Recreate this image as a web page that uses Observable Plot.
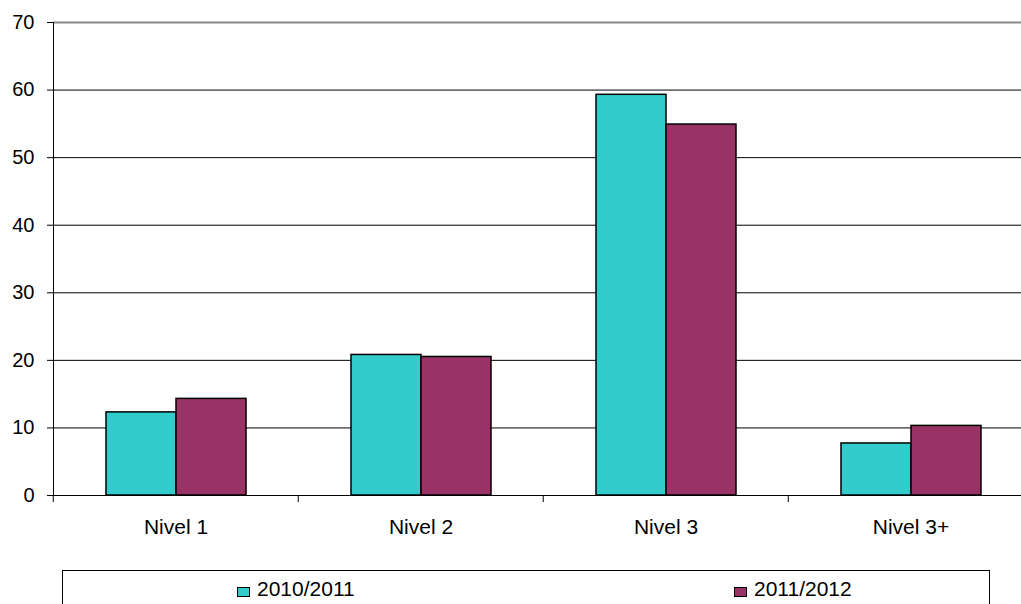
<!DOCTYPE html>
<html>
<head>
<meta charset="utf-8">
<script src="https://cdn.jsdelivr.net/npm/d3@7"></script>
<script src="https://cdn.jsdelivr.net/npm/@observablehq/plot@0.6"></script>
<style>
  html, body { margin: 0; padding: 0; background: white; overflow: hidden; width: 1021px; height: 604px; }
  #chart { position: absolute; left: 0; top: 0; }
  #chart svg { max-width: none !important; }
  #legend { position: absolute; left: 62px; top: 570px; width: 928px; height: 44px; border: 1.5px solid #000; box-sizing: border-box; font-family: "Liberation Sans", Arial, sans-serif; font-size: 21px; color: #000; }
  .sw { position: absolute; width: 13px; height: 10px; border: 1.5px solid #000; box-sizing: border-box; top: 16px; }
  .lt { position: absolute; top: 7px; line-height: 21px; white-space: nowrap; }
</style>
</head>
<body>
<div id="chart"></div>
<div id="legend"></div>
<script>
const categories = ["Nivel 1", "Nivel 2", "Nivel 3", "Nivel 3+"];
const series = ["2010/2011", "2011/2012"];
const values2010 = [12.3, 20.8, 59.3, 7.7];
const values2011 = [14.3, 20.5, 54.9, 10.3];
const yTicks = [0, 10, 20, 30, 40, 50, 60, 70];
const colors = ["#33CCCC", "#993366"];

const data = [];
categories.forEach((c, i) => {
  data.push({category: c, series: series[0], value: values2010[i]});
  data.push({category: c, series: series[1], value: values2011[i]});
});

const W = 1040, ML = 52, MR = 6;
const step = (W - ML - MR) / categories.length;

const chart = Plot.plot({
  width: W,
  height: 545,
  marginLeft: ML,
  marginRight: MR,
  marginTop: 22,
  marginBottom: 50,
  style: {fontFamily: "'Liberation Sans', Arial, sans-serif", fontSize: "20px", color: "#000", background: "white", overflow: "visible", maxWidth: "none"},
  fx: {domain: categories, paddingInner: 0, paddingOuter: 0, axis: null, label: null},
  x: {domain: series, paddingInner: 0, paddingOuter: 0.737, axis: null},
  y: {domain: [0, 70], axis: null},
  color: {domain: series, range: colors},
  marks: [
    Plot.ruleY(yTicks.filter(t => t > 0 && t < 70), {stroke: "#000", strokeWidth: 1}),
    Plot.ruleY([70], {stroke: "#888", strokeWidth: 2}),
    Plot.barY(data, {fx: "category", x: "series", y: "value", fill: "series", stroke: "#000", strokeWidth: 1.5}),
    Plot.ruleY([0], {stroke: "#000", strokeWidth: 1}),
    Plot.frame({anchor: "left", facetAnchor: "left", stroke: "#000", strokeWidth: 1}),
    Plot.axisY({ticks: yTicks, tickSize: 6, tickPadding: 13, stroke: "#000", fill: "#000", label: null, fontSize: 20}),
    Plot.axisFx({anchor: "bottom", tickSize: 0, tickPadding: 24, fill: "#000", label: null, fontSize: 21}),
    Plot.axisFx({anchor: "bottom", tickSize: 7, tickFormat: () => "", dx: -step / 2, stroke: "#000", label: null})
  ]
});
document.getElementById("chart").appendChild(chart);

const legend = document.getElementById("legend");
const swLeft = [174, 671];
series.forEach((s, i) => {
  const sw = document.createElement("div");
  sw.className = "sw";
  sw.style.left = swLeft[i] + "px";
  sw.style.background = colors[i];
  legend.appendChild(sw);
  const t = document.createElement("div");
  t.className = "lt";
  t.style.left = (swLeft[i] + 20) + "px";
  t.textContent = s;
  legend.appendChild(t);
});
</script>
</body>
</html>
